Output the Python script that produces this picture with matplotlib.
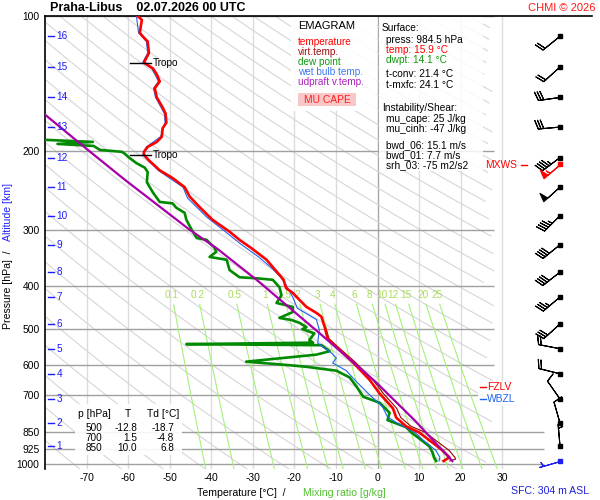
import numpy as np
import matplotlib
matplotlib.use("Agg")
import matplotlib.pyplot as plt
from matplotlib.patches import Rectangle
from matplotlib.transforms import blended_transform_factory

plt.rcParams["font.family"] = ["Liberation Sans", "DejaVu Sans"]
plt.rcParams["axes.unicode_minus"] = False

# ---- chart data ----
pressure_levels = [100, 200, 300, 400, 500, 600, 700, 850, 925, 1000]
temp_ticks = [-70, -60, -50, -40, -30, -20, -10, 0, 10, 20, 30]
mixing_ratios = [0.1, 0.2, 0.5, 1, 1.5, 2, 3, 4, 6, 8, 10, 12, 15, 20, 25]
mixing_labels = ["0.1", "0.2", "0.5", "1", "1.5", "2", "3", "4", "6", "8", "10", "12", "15", "20", "25"]

alt_km = [1, 2, 3, 4, 5, 6, 7, 8, 9, 10, 11, 12, 13, 14, 15, 16]
alt_p = [911, 810, 716, 629, 553, 487, 424, 373, 324, 279, 241, 207, 177, 152, 130, 111]

temp_p = [100, 102, 109, 111, 114, 121, 125, 127, 131, 135, 140, 145, 152, 160, 165, 173, 178,
          186, 191, 196, 201, 204, 210, 221, 230, 241, 253, 267, 285, 303, 316, 330, 350, 383,
          388, 405, 415, 430, 446, 460, 469, 495, 525, 548, 592, 649, 696, 751, 788, 824, 850,
          897, 932, 966, 984.5]
temp_t = [-57.7, -56.7, -57.2, -56.5, -55.3, -55.0, -55.8, -56.2, -54.0, -53.1, -52.4, -53.6,
          -53.1, -51.7, -51.0, -50.8, -51.7, -51.9, -53.1, -55.3, -56.2, -56.2, -55.0, -52.4,
          -49.3, -46.4, -45.2, -42.8, -39.7, -35.6, -33.2, -30.3, -26.7, -23.1, -22.6, -22.0,
          -20.4, -18.8, -17.1, -14.7, -13.5, -12.7, -12.0, -9.9, -6.0, -1.9, 0.5, 3.7, 4.5,
          6.9, 10.0, 13.3, 15.6, 17.3, 15.9]

virt_p = [495, 525, 548, 592, 649, 696, 751, 788, 824, 850, 897, 932, 966, 975, 984.5]
virt_t = [-12.5, -11.7, -9.5, -5.4, -1.1, 1.4, 4.6, 5.6, 8.1, 11.5, 14.8, 17.2, 18.6, 18.8, 17.4]

dew_p = [189, 191, 193, 195, 199, 201, 203, 207, 213, 218, 223, 235, 248, 260, 262, 268, 275,
         285, 300, 313, 316, 324, 328, 336, 345, 350, 369, 383, 385, 388, 403, 420, 437, 446,
         458, 472, 477, 484, 495, 500, 511, 529, 536, 540, 543, 560, 570, 591, 602, 607, 619,
         641, 673, 708, 730, 757, 768, 798, 809, 828, 850, 885, 914, 945, 966, 984.5]
dew_t = [-80.0, -68.5, -77.0, -68.3, -66.8, -61.5, -60.8, -59.8, -58.0, -56.0, -55.3, -55.5,
         -54.0, -52.4, -49.3, -48.4, -46.4, -46.0, -44.7, -43.5, -41.1, -40.0, -39.3, -38.8,
         -40.4, -36.3, -35.6, -33.2, -29.1, -25.2, -23.6, -23.1, -24.3, -20.4, -20.4, -23.6,
         -20.7, -18.8, -17.1, -18.1, -15.2, -16.4, -15.5, -46.0, -13.5, -11.5, -14.7, -31.6,
         -21.0, -17.0, -9.9, -6.7, -5.0, -3.4, 0.5, 2.2, 2.9, 2.4, 4.1, 6.9, 8.1, 10.6, 12.5,
         13.3, 13.6, 14.1]

wetb_p = [100, 109, 114, 121, 127, 131, 140, 145, 152, 165, 173, 186, 196, 204, 221, 241, 255,
          281, 302, 324, 345, 365, 383, 397, 424, 449, 476, 502, 537, 565, 580, 595, 619, 649,
          676, 708, 745, 785, 809, 850, 885, 932, 966, 984.5]
wetb_t = [-58.0, -57.5, -55.6, -55.3, -56.5, -54.3, -52.7, -53.9, -53.4, -51.3, -51.1, -52.2,
          -55.6, -56.5, -52.8, -46.8, -45.7, -41.1, -36.8, -32.7, -28.6, -25.5, -23.3, -22.1,
          -20.4, -19.3, -14.7, -14.0, -14.4, -11.1, -9.9, -10.8, -7.5, -5.5, -3.6, -1.4, 1.2,
          2.4, 4.6, 9.0, 11.0, 14.0, 15.0, 14.8]

parcel_p = [166, 199, 232, 300, 330, 388, 511, 655, 800, 985]
parcel_t = [-80.0, -69.7, -60.8, -45.2, -38.7, -29.1, -13.9, -0.5, 9.0, 18.0]

tropo_p = [127, 204]

wind_dir = [355, 344, 325, 284, 281, 228, 230, 232, 231, 225, 228, 233, 265, 262, 228, 231]
wind_spd = [5, 10, 10, 20, 20, 30, 35, 40, 40, 45, 50, 45, 30, 30, 20, 20]
mxws_p, mxws_dir, mxws_spd = 214, 229, 55
sfc_p, sfc_dir, sfc_spd = 984.5, 254, 5

table_rows = [("500", "-12.8", "-18.7"), ("700", "1.5", "-4.8"), ("850", "10.0", "6.8")]

# ---- figure ----
W, H = 600, 500
fig = plt.figure(figsize=(6, 5), dpi=100)
ax = fig.add_axes([45 / W, 31 / H, 547 / W, 453 / H])
ax.set_yscale("log")
ax.set_ylim(1026, 100)
ax.set_xlim(-80, 51.6)

for s in ["bottom", "right"]:
    ax.spines[s].set_visible(False)
ax.spines["left"].set_linewidth(1.2)
ax.spines["top"].set_linewidth(1.2)

ax.set_yticks(pressure_levels)
ax.set_yticklabels([str(p) for p in pressure_levels])
ax.minorticks_off()
ax.set_xticks(temp_ticks)
ax.set_xticklabels([str(t) for t in temp_ticks])
ax.tick_params(length=0, labelsize=7.4, pad=4)
ax.tick_params(axis="x", pad=3)

# isotherms
for t in temp_ticks:
    ax.axvline(t, color="#a8a8a8" if t == 0 else "#dcdcdc", lw=1, zorder=1)

# dry adiabats (every 10 K)
pp = np.geomspace(100, 1050, 80)
for theta in range(190, 600, 10):
    tt = theta * (pp / 1000.0) ** 0.286 - 273.15
    tt = np.where(tt > 28, np.nan, tt)
    ax.plot(tt, pp, color="#d6d6d6", lw=0.8, zorder=1)

# isobars
ax.hlines([p for p in pressure_levels if p < 850], -80, 28, color="#a0a0a0", lw=1, zorder=2)
ax.hlines([850, 925, 1000], -80, 40, color="#a0a0a0", lw=1, zorder=2)

# mixing ratio lines
pm = np.geomspace(440, 1050, 30)
for w, lab in zip(mixing_ratios, mixing_labels):
    e = w * pm / (622.0 + w)
    g = np.log(e / 6.112)
    td = 243.5 * g / (17.67 - g)
    ax.plot(td, pm, color="#a6f07a", lw=0.8, zorder=2)
    e0 = w * 420 / (622.0 + w)
    g0 = np.log(e0 / 6.112)
    ax.text(243.5 * g0 / (17.67 - g0), 420, lab, color="#a8dc5a", fontsize=7.2,
            ha="center", va="center", zorder=3)

# profiles
ax.plot(dew_t, dew_p, color="#008a00", lw=1.9, zorder=5)
ax.plot(wetb_t, wetb_p, color="#1e64f0", lw=0.8, zorder=6)
ax.plot(virt_t, virt_p, color="#a00000", lw=0.8, zorder=6)
ax.plot(temp_t, temp_p, color="#ff0000", lw=1.9, zorder=7)
ax.plot(parcel_t, parcel_p, color="#a800a8", lw=1.6, zorder=8)

# tropopause marks
for p in tropo_p:
    ax.plot([-59.5, -54.4], [p, p], color="black", lw=1, zorder=9)
    ax.text(-54.0, p, "Tropo", fontsize=7.2, ha="left", va="center", zorder=9)

# altitude scale
bt = blended_transform_factory(ax.transAxes, ax.transData)
for km, p in zip(alt_km, alt_p):
    ax.plot([0.006, 0.016], [p, p], color="#1c1cff", lw=1, transform=bt, zorder=9)
    ax.text(0.021, p, str(km), color="#1c1cff", fontsize=7.2, ha="left", va="center",
            transform=bt, zorder=9)

# winds
wx = 43.9
d = np.deg2rad(wind_dir)
u = -np.array(wind_spd) * np.sin(d)
v = -np.array(wind_spd) * np.cos(d)
ax.barbs(np.full(len(alt_p), wx), alt_p, u, v, length=5.6, lw=0.8, color="black",
         zorder=9, clip_on=False)
ax.plot(np.full(len(alt_p), wx), alt_p, "s", ms=2.2, color="black", zorder=10)
for p, dd, sp, c in [(mxws_p, mxws_dir, mxws_spd, "#ff0000"), (sfc_p, sfc_dir, sfc_spd, "#1e1ef0")]:
    r = np.deg2rad(dd)
    ax.barbs([wx], [p], [-sp * np.sin(r)], [-sp * np.cos(r)], length=5.6, lw=0.8,
             color=c, zorder=9, clip_on=False)
    ax.plot([wx], [p], "s", ms=2.2, color=c, zorder=10)

# ---- overlay (pixel coordinates) for labels and boxes ----
ov = fig.add_axes([0, 0, 1, 1])
ov.set_xlim(0, W)
ov.set_ylim(H, 0)
ov.axis("off")
ov.patch.set_alpha(0)

ov.text(50, 8, "Praha-Libus    02.07.2026 00 UTC", fontsize=9, fontweight="bold",
        ha="left", va="center")
ov.text(596, 8, "CHMI © 2026", fontsize=8, color="#ff1a1a", ha="right", va="center")

# legend box
ov.add_patch(Rectangle((291, 17), 86, 94, facecolor="white", edgecolor="none", alpha=0.9))
ov.text(298, 26, "EMAGRAM", fontsize=8, ha="left", va="center")
legend_items = [("temperature", "#ff0000"), ("virt.temp.", "#a01010"), ("dew point", "#109a10"),
                ("wet bulb temp.", "#3c78f0"), ("udpraft v.temp.", "#b020c0")]
for i, (txt, col) in enumerate(legend_items):
    ov.text(298, 42 + 10 * i, txt, fontsize=7.2, color=col, ha="left", va="center")
ov.add_patch(Rectangle((298, 93), 58, 13, facecolor="#f8c8c8", edgecolor="none"))
ov.text(327, 100, "MU CAPE", fontsize=7.4, color="#ff2020", ha="center", va="center")

# surface box
ov.add_patch(Rectangle((379, 17), 104, 154, facecolor="white", edgecolor="none", alpha=0.85))
info = [(382, 28, "Surface:", "black"),
        (386, 40, "press: 984.5 hPa", "black"),
        (386, 50, "temp: 15.9 °C", "#ff0000"),
        (386, 60, "dwpt: 14.1 °C", "#109a10"),
        (386, 74, "t-conv: 21.4 °C", "black"),
        (386, 85, "t-mxfc: 24.1 °C", "black"),
        (382, 108, "Instability/Shear:", "black"),
        (386, 119, "mu_cape: 25 J/kg", "black"),
        (386, 129, "mu_cinh: -47 J/kg", "black"),
        (386, 145, "bwd_06: 15.1 m/s", "black"),
        (386, 155, "bwd_01: 7.7 m/s", "black"),
        (386, 165, "srh_03: -75 m2/s2", "black")]
for x, y, txt, col in info:
    ov.text(x, y, txt, fontsize=7.3, color=col, ha="left", va="center")

# table box
ov.add_patch(Rectangle((75, 404), 107, 51, facecolor="white", edgecolor="none", alpha=0.9))
ov.text(78, 414, "p [hPa]", fontsize=7.4, ha="left", va="center")
ov.text(128, 414, "T", fontsize=7.4, ha="center", va="center")
ov.text(147, 414, "Td [°C]", fontsize=7.4, ha="left", va="center")
for i, (p, t, td) in enumerate(table_rows):
    y = 428 + 10 * i
    ov.text(102, y, p, fontsize=7.2, ha="right", va="center")
    ov.text(137, y, t, fontsize=7.2, ha="right", va="center")
    ov.text(174, y, td, fontsize=7.2, ha="right", va="center")

# freezing / wet-bulb zero labels
ov.add_patch(Rectangle((478, 381), 37, 25, facecolor="white", edgecolor="none", alpha=0.9))
ov.plot([480, 486], [387, 387], color="#ff0000", lw=1)
ov.text(487, 387, "FZLV", fontsize=7.4, color="#ff0000", ha="left", va="center")
ov.plot([480, 486], [399, 399], color="#1e64f0", lw=1)
ov.text(487, 399, "WBZL", fontsize=7.4, color="#1e64f0", ha="left", va="center")

ov.text(517, 165, "MXWS", fontsize=7.4, color="#ff0000", ha="right", va="center")
ov.plot([521, 527], [165, 165], color="#ff0000", lw=1)

# axis titles
ov.text(197, 493, "Temperature [°C]  /", fontsize=7.6, ha="left", va="center")
ov.text(303, 493, "Mixing ratio [g/kg]", fontsize=7.6, color="#50c030", ha="left", va="center")
ov.text(589, 491, "SFC: 304 m ASL", fontsize=7.6, color="#2020e0", ha="right", va="center")
ov.text(8, 290, "Pressure [hPa]  /", fontsize=7.6, rotation=90, ha="center", va="center")
ov.text(8, 212, "Altitude [km]", fontsize=7.6, color="#2020ff", rotation=90, ha="center", va="center")

fig.savefig("out.png", dpi=100)
